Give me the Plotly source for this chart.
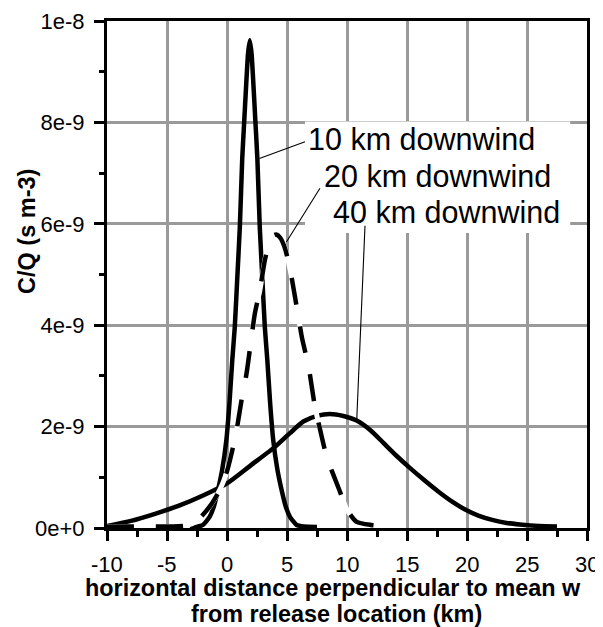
import plotly.graph_objects as go

# ---- data (values in units of 1e-9 s m-3) ----
x10 = [-3.1, -2.6, -2.0, -1.45, -1.1, -0.75, -0.4, -0.05, 0.2, 0.44, 0.65, 0.85, 1.07, 1.27, 1.43, 1.6, 1.75, 1.9,
       2.05, 2.2, 2.37, 2.53, 2.73, 2.95, 3.15, 3.36, 3.6, 3.85, 4.2, 4.55, 4.9, 5.25, 5.8, 6.4, 7.5]
y10 = [0.01, 0.02, 0.06, 0.22, 0.42, 0.75, 1.15, 1.74, 2.45, 3.31, 3.97, 4.9, 5.94, 7.29, 8.0, 8.75, 9.35, 9.62,
       9.35, 8.75, 8.0, 7.29, 5.94, 4.9, 3.97, 3.31, 2.45, 1.74, 1.15, 0.75, 0.42, 0.22, 0.06, 0.03, 0.02]

x20 = [-10, -8, -6, -4.5, -3.4, -2.55, -1.45, -0.6, -0.05, 0.38, 0.8, 1.21, 1.63, 1.95, 2.32, 2.74, 3.16, 3.5,
       3.8, 4.1, 4.45, 4.85, 5.3, 5.8, 6.25, 6.8, 7.33, 7.7, 8.3, 9.36, 10.0, 10.8, 12.0, 13.9]
y20 = [0.03, 0.03, 0.03, 0.03, 0.05, 0.13, 0.42, 0.75, 1.08, 1.47, 1.93, 2.52, 3.05, 3.6, 4.23, 4.69, 5.29, 5.6,
       5.76, 5.79, 5.72, 5.5, 5.05, 4.37, 3.75, 3.18, 2.39, 2.0, 1.41, 0.75, 0.36, 0.12, 0.06, 0.03]

x40 = [-10, -8, -6, -4, -2, 0, 2, 4, 5.24, 6.36, 7.5, 8.57, 9.7, 10.81, 12, 13.03, 14.1, 15.26, 16.5, 17.6,
       18.7, 19.8, 21, 22.1, 23.3, 24.4, 26, 27.5]
y40 = [0.04, 0.14, 0.28, 0.44, 0.64, 0.88, 1.24, 1.6, 1.87, 2.1, 2.21, 2.25, 2.21, 2.12, 1.92, 1.68, 1.43,
       1.18, 0.93, 0.72, 0.53, 0.37, 0.24, 0.16, 0.1, 0.07, 0.04, 0.03]

labels = ["10 km downwind", "20 km downwind", "40 km downwind"]
label_x = [6.6, 7.95, 8.65]
label_y = [7.68, 6.95, 6.23]
leader_from_x = [2.70, 4.95, 10.81]
leader_from_y = [7.29, 5.64, 2.12]
leader_to_x = [6.50, 7.75, 11.5]
leader_to_y = [7.62, 6.70, 5.96]

x_ticks = [-10, -5, 0, 5, 10, 15, 20, 25, 30]
x_ticktext = ["-10", "-5", "0", "5", "10", "15", "20", "25", "30"]
x_minor = [-7.5, -2.5, 2.5, 7.5, 12.5, 17.5, 22.5, 27.5]
y_ticks = [0, 2e-9, 4e-9, 6e-9, 8e-9, 1e-8]
y_ticktext = ["0e+0", "2e-9", "4e-9", "6e-9", "8e-9", "1e-8"]
y_minor = [1e-9, 3e-9, 5e-9, 7e-9, 9e-9]

S = 1e-9
FONT = "Liberation Sans, Arial, Helvetica, sans-serif"
LW = 4.5

fig = go.Figure()
fig.add_trace(go.Scatter(x=x40, y=[v * S for v in y40], mode="lines",
                         line=dict(color="black", width=LW, shape="spline", smoothing=0.6),
                         showlegend=False, hoverinfo="skip"))
fig.add_trace(go.Scatter(x=x10, y=[v * S for v in y10], mode="lines",
                         line=dict(color="black", width=LW, shape="spline", smoothing=0.5),
                         showlegend=False, hoverinfo="skip"))
fig.add_trace(go.Scatter(x=x20, y=[v * S for v in y20], mode="lines",
                         line=dict(color="white", width=LW + 0.5, shape="spline", smoothing=0.6),
                         showlegend=False, hoverinfo="skip"))
fig.add_trace(go.Scatter(x=x20, y=[v * S for v in y20], mode="lines",
                         line=dict(color="black", width=LW, shape="spline", smoothing=0.6, dash="27px,22px"),
                         showlegend=False, hoverinfo="skip"))

# white label box
fig.add_shape(type="rect", xref="x", yref="y", x0=6.5, x1=28.6, y0=5.82 * S, y1=8.02 * S,
              fillcolor="white", line=dict(width=0), layer="between")

for i in range(3):
    fig.add_shape(type="line", xref="x", yref="y",
                  x0=leader_from_x[i], y0=leader_from_y[i] * S,
                  x1=leader_to_x[i], y1=leader_to_y[i] * S,
                  line=dict(color="black", width=1.1), layer="above")
    fig.add_annotation(x=label_x[i], y=label_y[i] * S, xref="x", yref="y", text=labels[i],
                       showarrow=False, xanchor="left", yanchor="middle",
                       font=dict(family=FONT, size=30.5, color="black"))

# page has an 8px body margin; figure is sized to fit the 603x627 window
OFF = 8
W, H = 603 - OFF, 627 - OFF
L, T = 107 - OFF, 21 - OFF
pw, ph = 480, 507
R, B = W - L - pw, H - T - ph


def page_to_paper(px, py):
    return (px - OFF - L) / pw, (H - B - (py - OFF)) / ph


# x tick labels (placed as text under the ticks)
_, ty = page_to_paper(0, 564.5)
for v, t in zip(x_ticks, x_ticktext):
    fig.add_annotation(x=v, y=ty, xref="x", yref="paper", text=t, showarrow=False,
                       xanchor="center", yanchor="middle",
                       font=dict(family=FONT, size=22, color="black"))

ax_, ay_ = page_to_paper(27, 232)
fig.add_annotation(x=ax_, y=ay_, xref="paper", yref="paper", text="<b>C/Q (s m-3)</b>", showarrow=False,
                   textangle=-90, xanchor="center", yanchor="middle",
                   font=dict(family=FONT, size=23.5, color="black"))
bx, by = page_to_paper(333, 588)
fig.add_annotation(xref="paper", yref="paper", x=bx, y=by, text="<b>horizontal distance perpendicular to mean w</b>",
                   showarrow=False, xanchor="center", yanchor="middle",
                   font=dict(family=FONT, size=23.4, color="black"))
cx, cy = page_to_paper(336.5, 614)
fig.add_annotation(xref="paper", yref="paper", x=cx, y=cy, text="<b>from release location (km)</b>",
                   showarrow=False, xanchor="center", yanchor="middle",
                   font=dict(family=FONT, size=23.4, color="black"))

fig.update_layout(
    template="none",
    width=W, height=H,
    margin=dict(l=L, r=R, t=T, b=B, pad=0, autoexpand=False),
    paper_bgcolor="white", plot_bgcolor="white",
    font=dict(family=FONT, size=22, color="black"),
    showlegend=False,
)
common = dict(
    ticks="outside", ticklen=10, tickwidth=2.5, tickcolor="black",
    showline=True, linewidth=3, linecolor="black", mirror=True,
    showgrid=True, gridcolor="#9a9a9a", gridwidth=2.5, zeroline=False,
    layer="below traces", tickfont=dict(size=22, family=FONT, color="black"),
    automargin=False,
)
fig.update_xaxes(
    range=[-10, 30], tickmode="array", tickvals=x_ticks, showticklabels=False,
    minor=dict(tickmode="array", tickvals=x_minor, ticks="outside", ticklen=6, tickwidth=2.5,
               tickcolor="black", showgrid=False),
    **common,
)
fig.update_yaxes(
    range=[0, 1e-8], tickmode="array", tickvals=y_ticks, ticktext=y_ticktext,
    minor=dict(tickmode="array", tickvals=y_minor, ticks="outside", ticklen=5, tickwidth=2.5,
               tickcolor="black", showgrid=False),
    ticklabelstandoff=5,
    **common,
)

fig.write_html("out.html")
